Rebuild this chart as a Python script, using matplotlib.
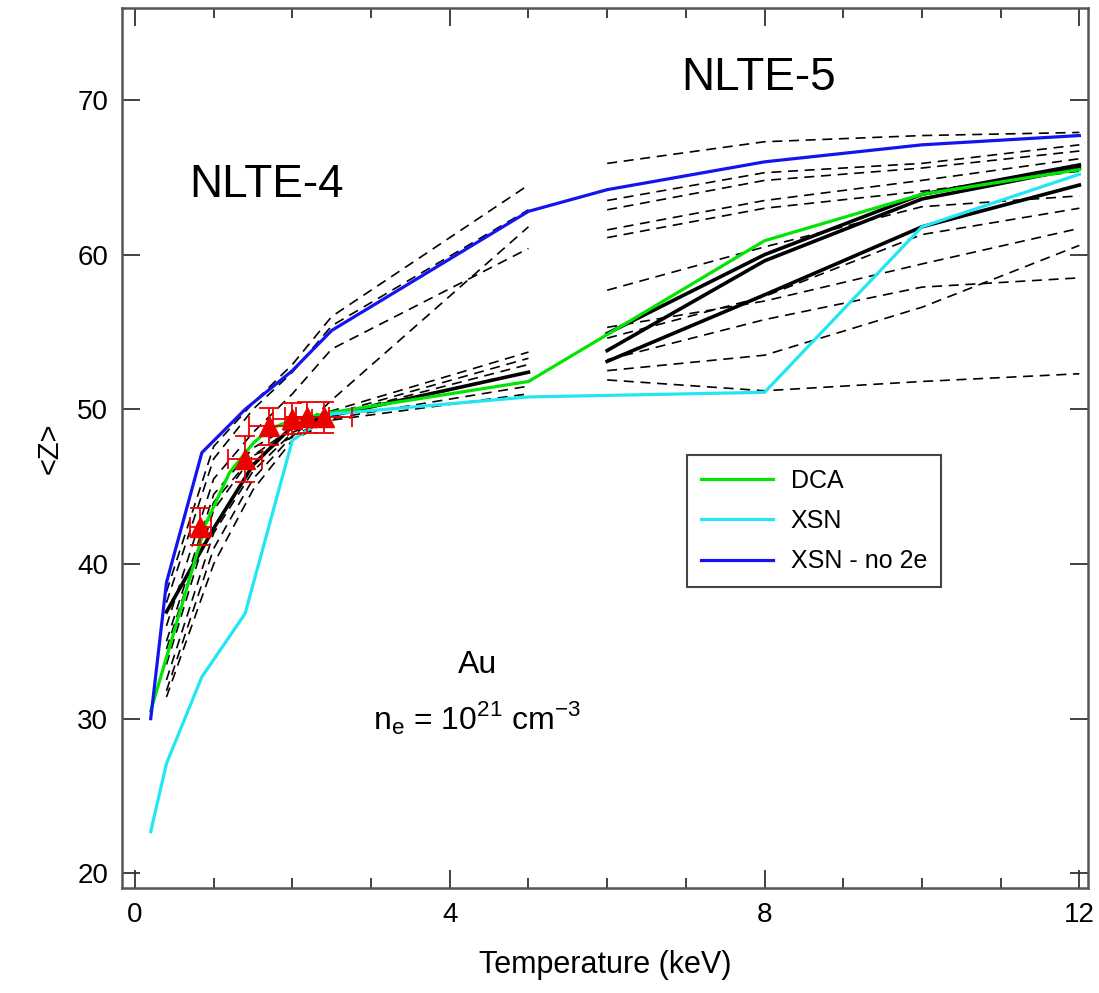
import numpy as np
import matplotlib
matplotlib.use("Agg")
import matplotlib.pyplot as plt

plt.rcParams['font.family'] = ['Liberation Sans', 'DejaVu Sans']

# DCA model
dca_T = [0.2, 0.9, 1.2, 1.5, 1.7, 2.0, 2.5, 5.0, 8.0, 10.0, 12.0]
dca_Z = [30.5, 42.6, 45.9, 47.8, 48.7, 49.3, 49.8, 51.8, 60.9, 63.9, 65.5]

# XSN model
xsn_T = [0.2, 0.4, 0.85, 1.4, 2.0, 2.5, 5.0, 8.0, 10.0, 12.0]
xsn_Z = [22.7, 27.1, 32.7, 36.8, 48.0, 49.7, 50.8, 51.1, 61.8, 65.2]

# XSN without 2e
xsn2_T = [0.2, 0.4, 0.85, 1.4, 2.0, 2.5, 5.0, 6.0, 8.0, 10.0, 12.0]
xsn2_Z = [30.0, 38.8, 47.2, 50.0, 52.5, 55.1, 62.8, 64.2, 66.0, 67.1, 67.7]

# NLTE-4 submissions
nlte4_T = [0.4, 1.0, 1.5, 2.0, 2.5, 5.0]
nlte4_solid = [[36.9, 42.3, 46.4, 48.9, 49.6, 52.4]]
nlte4_dashed = [
    [38.2, 47.6, 50.4, 52.9, 56.0, 64.5],
    [37.5, 46.8, 50.0, 52.4, 55.4, 62.9],
    [36.0, 45.5, 48.5, 51.0, 53.9, 60.4],
    [34.5, 44.0, 47.0, 48.2, 50.6, 61.8],
    [35.0, 44.5, 47.5, 49.0, 49.9, 53.7],
    [33.5, 43.5, 47.0, 48.8, 49.7, 53.3],
    [32.5, 42.0, 46.0, 48.5, 49.6, 52.9],
    [31.8, 41.0, 45.5, 48.3, 49.4, 51.5],
    [31.4, 40.0, 44.8, 48.0, 49.3, 51.0],
]

# NLTE-5 submissions
nlte5_T = [6.0, 8.0, 10.0, 12.0]
nlte5_solid = [
    [54.9, 60.0, 63.9, 65.8],
    [53.8, 59.6, 63.6, 65.6],
    [53.1, 57.4, 61.8, 64.5],
]
nlte5_dashed = [
    [65.9, 67.3, 67.7, 67.9],
    [63.5, 65.3, 65.9, 67.1],
    [62.9, 64.8, 65.6, 66.7],
    [61.6, 63.5, 64.8, 66.2],
    [61.1, 63.0, 64.1, 65.4],
    [57.7, 60.5, 63.1, 63.8],
    [55.3, 57.0, 59.4, 61.7],
    [54.6, 57.3, 61.3, 63.0],
    [53.2, 55.8, 57.9, 58.5],
    [52.5, 53.5, 56.6, 60.6],
    [51.9, 51.2, 51.8, 52.3],
]

# measurements
exp_T = [0.83, 1.40, 1.70, 2.00, 2.19, 2.40]
exp_Z = [42.4, 46.8, 48.9, 49.4, 49.5, 49.5]
exp_Terr = [0.13, 0.22, 0.25, 0.25, 0.28, 0.36]
exp_Zerr = [1.2, 1.5, 1.2, 1.0, 1.0, 1.0]

fig = plt.figure(figsize=(10.99, 9.93), dpi=100)
ax = fig.add_axes([0.111, 0.1057, 0.879, 0.8863])

for z in nlte4_dashed:
    ax.plot(nlte4_T, z, color='black', lw=1.2, ls=(0, (6, 4)))
for z in nlte5_dashed:
    ax.plot(nlte5_T, z, color='black', lw=1.2, ls=(0, (6, 4)))
for z in nlte4_solid:
    ax.plot(nlte4_T, z, color='black', lw=2.6)
for z in nlte5_solid:
    ax.plot(nlte5_T, z, color='black', lw=2.6)

ax.plot(dca_T, dca_Z, color='#00e600', lw=2.3, label='DCA')
ax.plot(xsn_T, xsn_Z, color='#22e6f2', lw=2.3, label='XSN')
ax.plot(xsn2_T, xsn2_Z, color='#1414f0', lw=2.3, label='XSN - no 2e')

ax.errorbar(exp_T, exp_Z, xerr=exp_Terr, yerr=exp_Zerr, fmt='^', color='#ee0000',
            ms=14, elinewidth=1.3, capsize=7, capthick=1.3, zorder=5)

ax.set_xlim(-0.165, 12.11)
ax.set_ylim(19.05, 75.95)
ax.set_xticks([0, 4, 8, 12])
ax.set_xticks(range(0, 13), minor=True)
ax.set_yticks([20, 30, 40, 50, 60, 70])
ax.tick_params(which='both', direction='in', top=True, right=True, labelsize=20,
               width=1.3, color='#333333', pad=10)
ax.tick_params(which='major', length=13)
ax.tick_params(which='minor', length=7)
for s in ax.spines.values():
    s.set_linewidth(1.8)
    s.set_color('#555555')

ax.set_xlabel('Temperature (keV)', fontsize=22, labelpad=16)
ax.set_ylabel('<Z>', fontsize=21, labelpad=10)

ax.text(1.67, 64.5, 'NLTE-4', fontsize=33, ha='center', va='center')
ax.text(7.93, 71.4, 'NLTE-5', fontsize=33, ha='center', va='center')
ax.text(4.35, 33.5, 'Au', fontsize=23, ha='center', va='center')
ax.text(4.35, 30.0, r'n$_\mathregular{e}$ = 10$^\mathregular{21}$ cm$^\mathregular{-3}$',
        fontsize=23, ha='center', va='center')

leg = ax.legend(loc='upper left', bbox_to_anchor=(0.585, 0.492), borderaxespad=0,
                fontsize=18, fancybox=False, framealpha=1, edgecolor='#444444',
                handlelength=2.9, handletextpad=0.7, borderpad=0.55,
                labelspacing=0.65)
leg.get_frame().set_linewidth(1.5)

fig.savefig('out.png', dpi=100)
